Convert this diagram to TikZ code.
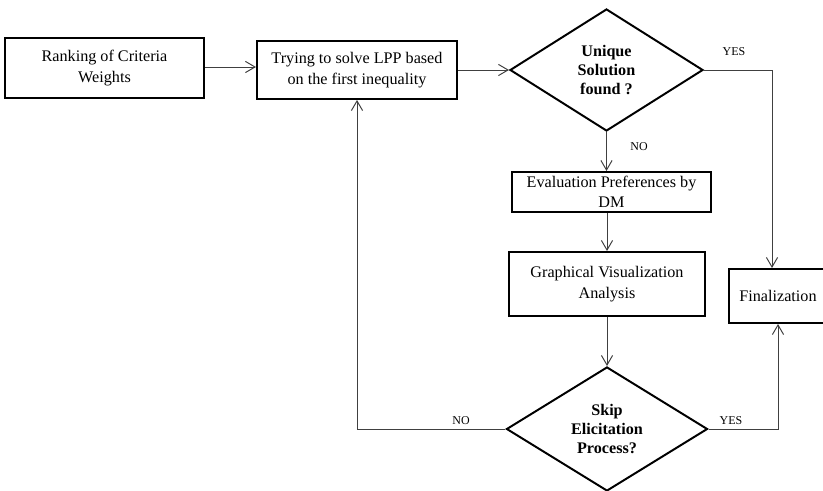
\documentclass[tikz,border=0pt]{standalone}
\usepackage{fontspec}
\setmainfont{Liberation Serif}
\usetikzlibrary{shapes.geometric,arrows.meta}

\tikzset{
  stepbox/.style={rectangle, draw=black, line width=1.4pt, align=center, inner sep=2pt, font=\fontsize{11.5}{14.5}\selectfont},
  decision/.style={diamond, draw=black, line width=1.4pt, align=center, inner sep=0pt, font=\fontsize{11.5}{13.8}\selectfont\bfseries},
  link/.style={->, draw=black!75, line width=0.7pt},
  answer/.style={inner sep=0pt, font=\fontsize{8.5}{10}\selectfont}
}

\begin{document}
\begin{tikzpicture}[x=0.025cm, y=-0.025cm, >={Straight Barb[length=2.4mm,width=2.8mm]}]
    \useasboundingbox (0,0) rectangle (823,491);

    % Process boxes
    \node[stepbox, minimum width=4.975cm, minimum height=1.5cm] (rank) at (104.5,68) {Ranking of Criteria\\Weights};
    \node[stepbox, minimum width=5cm, minimum height=1.45cm] (lpp) at (357,70) {Trying to solve LPP based\\on the first inequality};
    \node[stepbox, minimum width=4.975cm, minimum height=1cm] (eval) at (611.5,192) {Evaluation Preferences by\\DM};
    \node[stepbox, minimum width=4.9cm, minimum height=1.6cm] (graph) at (607,284) {Graphical Visualization\\Analysis};
    \node[stepbox, minimum width=2.45cm, minimum height=1.35cm] (final) at (778,296) {Finalization};

    % Decisions
    \node[decision, minimum width=4.825cm, minimum height=3.05cm] (uniq) at (606.5,70) {Unique\\Solution\\found ?};
    \node[decision, minimum width=5.025cm, minimum height=3.1cm] (skip) at (607,429) {Skip\\Elicitation\\Process?};

    % Answer labels
    \node[answer] (uniqyes) at (734,52) {YES};
    \node[answer] (uniqno) at (639,147) {NO};
    \node[answer] (skipno) at (461,421) {NO};
    \node[answer] (skipyes) at (731,421) {YES};

    % Edges
    \draw[link] (rank.east |- 0,67) -- (lpp.west |- 0,67);
    \draw[link] (lpp.east) -- (uniq.west);
    \draw[link] (uniq.east) -| ([xshift=-0.15cm]final.north);
    \draw[link] (uniq.south) -- (uniq.south |- eval.north);
    \draw[link] (graph.north |- eval.south) -- (graph.north);
    \draw[link] (graph.south) -- (skip.north);
    \draw[link] (skip.west) -| (lpp.south);
    \draw[link] (skip.east) -| (final.south);
\end{tikzpicture}
\end{document}
